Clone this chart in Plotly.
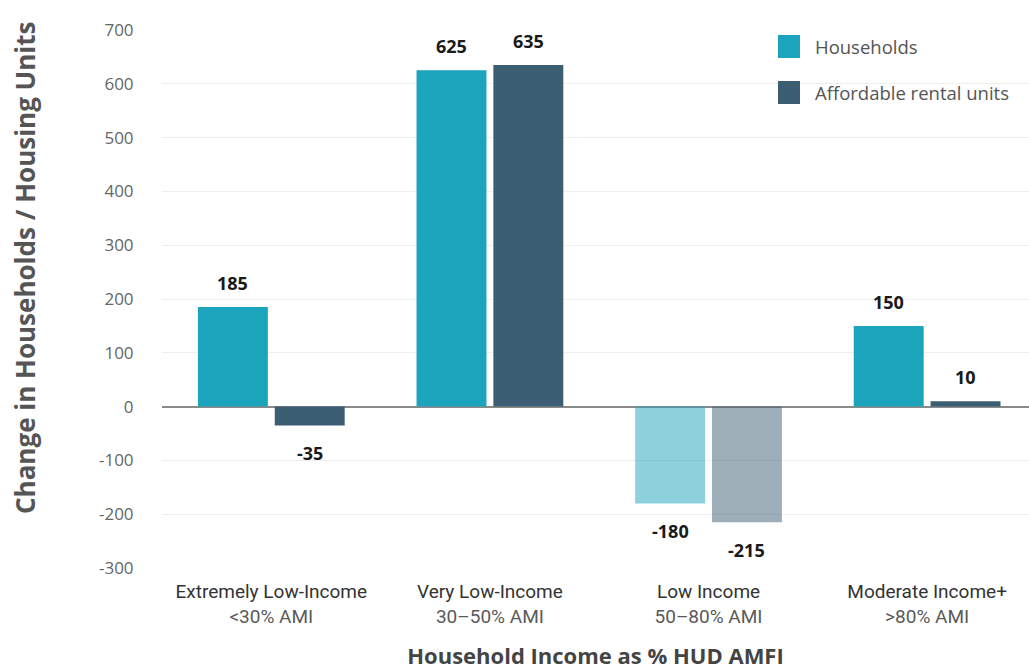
import plotly.graph_objects as go

categories = ["Extremely Low-Income", "Very Low-Income", "Low Income", "Moderate Income+"]
ami_ranges = ["<30% AMI", "30–50% AMI", "50–80% AMI", ">80% AMI"]
households = [185, 625, -180, 150]
affordable_units = [-35, 635, -215, 10]
series_names = ["Households", "Affordable rental units"]
y_ticks = [-300, -200, -100, 0, 100, 200, 300, 400, 500, 600, 700]

HH = "#1ba4bc"
AU = "#3b5e73"
HH_FADED = "rgba(27,164,188,0.5)"
AU_FADED = "rgba(59,94,115,0.5)"
FONT = "Open Sans, Lato, sans-serif"

x = list(range(len(categories)))
hh_colors = [HH_FADED if i == 2 else HH for i, v in enumerate(households)]
au_colors = [AU_FADED if i == 2 else AU for i, v in enumerate(affordable_units)]

fig = go.Figure()
fig.add_trace(go.Bar(x=x, y=households, name=series_names[0], marker=dict(color=hh_colors, line=dict(width=0)), showlegend=False))
fig.add_trace(go.Bar(x=x, y=affordable_units, name=series_names[1], marker=dict(color=au_colors, line=dict(width=0)), showlegend=False))

bargap = 0.297
slot = (1 - bargap) / 2
offsets = [-slot / 2, slot / 2]

annotations = []
for s, vals in enumerate([households, affordable_units]):
    for i, v in enumerate(vals):
        annotations.append(dict(
            x=i + offsets[s], y=v, xref="x", yref="y", text=str(v), showarrow=False,
            yanchor="bottom" if v >= 0 else "top", yshift=10 if v >= 0 else -14,
            font=dict(family=FONT, size=18, color="#1a1a1a", weight="bold"),
        ))

# legend drawn manually
legend_colors = [HH, AU]
shapes = []
for k, name in enumerate(series_names):
    ytop = 35 + k * 46
    shapes.append(dict(type="rect", xref="paper", yref="paper",
                       x0=(778 - 162) / (1029 - 162), x1=(800 - 162) / (1029 - 162),
                       y0=(568 - ytop) / 538, y1=(568 - ytop - 23) / 538,
                       fillcolor=legend_colors[k], line=dict(width=0)))
    annotations.append(dict(xref="paper", yref="paper", x=(813 - 162) / (1029 - 162),
                            y=(568 - ytop - 11.5) / 538, text=name, showarrow=False,
                            xanchor="left", yanchor="middle",
                            font=dict(family=FONT, size=18.5, color="#555555")))

# y-axis title (placed as annotation to match offset position)
annotations.append(dict(xref="paper", yref="paper", x=(25 - 162) / (1029 - 162), y=(568 - 268) / 538,
                        text="<b>Change in Households / Housing Units</b>", textangle=-90,
                        showarrow=False, xanchor="center", yanchor="middle",
                        font=dict(family=FONT, size=26, color="#555555")))

ticktext = [f"<span style='color:#333333'>{c}</span><br><span style='color:#5a5a5a'>{r.replace('<', '&lt;').replace('>', '&gt;')}</span>"
            for c, r in zip(categories, ami_ranges)]

fig.update_layout(
    width=1029, height=670,
    margin=dict(l=162, r=0, t=30, b=102),
    paper_bgcolor="white", plot_bgcolor="white",
    barmode="group", bargap=bargap, bargroupgap=0.09,
    annotations=annotations, shapes=shapes,
    font=dict(family=FONT),
    xaxis=dict(
        tickmode="array", tickvals=x, ticktext=ticktext, range=[-0.5, 3.466],
        showgrid=False, zeroline=False, showline=False,
        ticks="outside", ticklen=6, tickcolor="rgba(0,0,0,0)",
        tickfont=dict(family="Roboto, sans-serif", size=19, color="#333333"),
        title=dict(text="<b>Household Income as % HUD AMFI</b>", standoff=25,
                   font=dict(family=FONT, size=22, color="#444444")),
    ),
    yaxis=dict(
        range=[-300, 700], tickmode="array", tickvals=y_ticks, ticktext=[str(v) for v in y_ticks],
        showgrid=True, gridcolor="#eeeeee", gridwidth=1,
        zeroline=True, zerolinecolor="#8a8a8a", zerolinewidth=2,
        ticks="outside", ticklen=24, tickcolor="rgba(0,0,0,0)",
        tickfont=dict(family=FONT, size=17, color="#666666"),
    ),
)

fig.write_html("out.html")
